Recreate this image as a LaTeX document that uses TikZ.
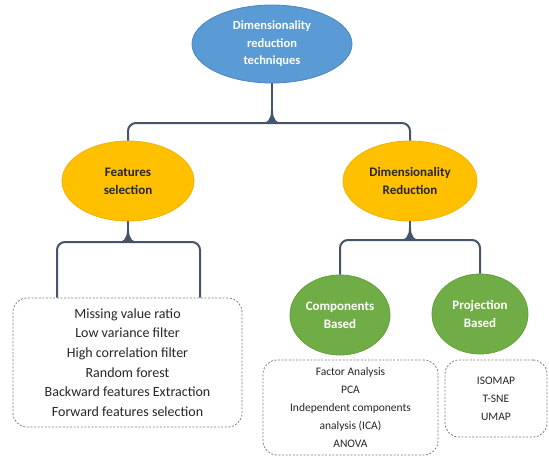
\documentclass[tikz,border=0pt]{standalone}
\usepackage{fontspec}
\setmainfont{Carlito}
\usetikzlibrary{shapes.geometric,calc}
\definecolor{conncol}{HTML}{44546A}
\definecolor{blueF}{HTML}{5B9BD5}
\definecolor{blueD}{HTML}{4A86BE}
\definecolor{goldF}{HTML}{FFC000}
\definecolor{goldD}{HTML}{F0B400}
\definecolor{greenF}{HTML}{70AD47}
\definecolor{greenD}{HTML}{63A03C}
\definecolor{txtdark}{HTML}{262626}
\definecolor{boxline}{HTML}{7F7F80}
\newcommand\jflare[1]{\fill[conncol] ($(#1)+(-13,0.9)$) .. controls ($(#1)+(-4,0.9)$) and ($(#1)+(-1,-4)$) .. ($(#1)+(-1,-12)$) -- ($(#1)+(1,-12)$) .. controls ($(#1)+(1,-4)$) and ($(#1)+(4,0.9)$) .. ($(#1)+(13,0.9)$) -- cycle;}
\tikzset{
  bubble/.style={ellipse, draw, line width=0.8pt, align=center, inner sep=0pt,
    font=\bfseries\fontsize{13}{18}\selectfont},
  bluebub/.style={bubble, fill=blueF, draw=blueD, text=white},
  goldbub/.style={bubble, fill=goldF, draw=goldD, text=txtdark},
  greenbub/.style={bubble, fill=greenF, draw=greenD, text=white},
  conn/.style={draw=conncol, line width=2pt, rounded corners=8pt},
  listbox/.style={draw=boxline, line width=0.8pt, dash pattern=on 2pt off 1.6pt,
    rounded corners=14pt, align=center, inner sep=0pt, text=txtdark},
}
\begin{document}
\begin{tikzpicture}[x=1pt,y=-1pt]
\useasboundingbox (0,0) rectangle (549,458);
\fill[white] (0,0) rectangle (549,458);

% nodes
\node[bluebub, minimum width=160pt, minimum height=78pt,
  font=\bfseries\fontsize{12.5}{17.5}\selectfont] (top) at (272,44) {Dimensionality\\reduction\\techniques};
\node[goldbub, minimum width=132pt, minimum height=80pt] (fs) at (128,181) {Features\\selection};
\node[goldbub, minimum width=134pt, minimum height=80pt] (dr) at (410,181) {Dimensionality\\Reduction};
\node[greenbub, minimum width=100pt, minimum height=80pt] (cb) at (340,315) {Components\\Based};
\node[greenbub, minimum width=96pt, minimum height=80pt] (pb) at (480,314) {Projection\\Based};

\node[listbox, minimum width=229pt, minimum height=129pt,
  font=\fontsize{14}{19.6}\selectfont] (fsbox) at (127.5,362.5)
  {Missing value ratio\\Low variance filter\\High correlation filter\\Random forest\\Backward features Extraction\\Forward features selection};
\node[listbox, minimum width=175pt, minimum height=95pt,
  font=\fontsize{11.5}{18}\selectfont] (cbbox) at (350.5,407.5)
  {Factor Analysis\\PCA\\Independent components\\analysis (ICA)\\ANOVA};
\node[listbox, minimum width=102pt, minimum height=77pt,
  font=\fontsize{11.5}{18}\selectfont] (pbbox) at (496,398.5)
  {ISOMAP\\T-SNE\\UMAP};

% junctions
\coordinate (j1) at (272,123);
\coordinate (j2) at (128,242);
\coordinate (j3) at (410,240);
\coordinate (x1) at (57,0);
\coordinate (x2) at (200,0);
\coordinate (c1) at (x1 |- fsbox.north);
\coordinate (c2) at (x2 |- fsbox.north);

% connectors
\draw[conn] (fs.north) |- (j1) -| (dr.north);
\draw[conn] (top.south) -- (j1);
\draw[conn] (c1) |- (j2) -| (c2);
\draw[conn] (fs.south) -- (j2);
\draw[conn] (cb.north) |- (j3) -| (pb.north);
\draw[conn] (dr.south) -- (j3);
\jflare{j1}
\jflare{j2}
\jflare{j3}
\end{tikzpicture}
\end{document}
